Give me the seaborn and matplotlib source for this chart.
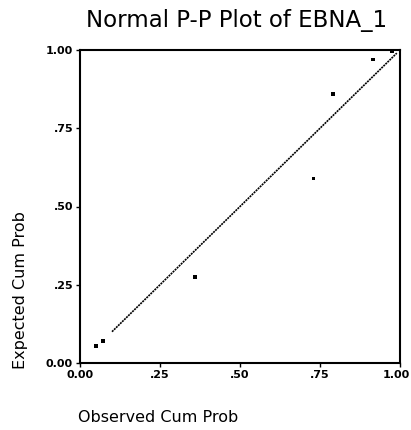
import matplotlib
matplotlib.use("Agg")
import matplotlib.pyplot as plt
import matplotlib.transforms as mtransforms
import seaborn as sns
import pandas as pd

# Dense run of points lying on the diagonal (observed vs expected cum prob)
diag_obs = [0.10, 0.36, 0.60, 0.99]
diag_exp = [0.10, 0.36, 0.60, 0.99]

# Individual points off / before the dense run
pts_obs = [0.05, 0.072, 0.36, 0.73, 0.79, 0.915, 0.975]
pts_exp = [0.054, 0.07, 0.275, 0.59, 0.86, 0.97, 0.995]

ticks = [0.0, 0.25, 0.5, 0.75, 1.0]
tick_labels = ["0.00", ".25", ".50", ".75", "1.00"]

sns.set_style("white")
plt.rcParams['font.family'] = ['DejaVu Sans']
plt.rcParams['text.color'] = 'black'
plt.rcParams['xtick.color'] = 'black'
plt.rcParams['ytick.color'] = 'black'

fig = plt.figure(figsize=(4.11, 4.30), dpi=100)
ax = fig.add_axes([80/411, 1-363/430, 320/411, 313/430])

diag = pd.DataFrame({"obs": diag_obs, "exp": diag_exp})
pts = pd.DataFrame({"obs": pts_obs, "exp": pts_exp})

sns.lineplot(data=diag, x="obs", y="exp", ax=ax, color="black", linewidth=1.2,
             linestyle=(0, (1.2, 0.5)), sort=False)
sns.scatterplot(data=pts, x="obs", y="exp", ax=ax, color="black", s=6,
                marker="s", edgecolor="none")

ax.set_xlim(0, 1)
ax.set_ylim(0, 1)
ax.set_xticks(ticks)
ax.set_yticks(ticks)
ax.set_xticklabels(tick_labels, fontsize=8, fontweight="bold")
ax.set_yticklabels(tick_labels, fontsize=8, fontweight="bold")
ax.tick_params(axis="both", direction="out", length=3, width=1, color="black",
               pad=2, bottom=True, left=True, labelcolor="black")
# keep the last x tick label inside the figure edge
last = ax.get_xticklabels()[-1]
last.set_transform(last.get_transform() +
                   mtransforms.ScaledTranslation(-0.04, 0, fig.dpi_scale_trans))
ax.set_xlabel("")
ax.set_ylabel("")
for s in ax.spines.values():
    s.set_color("black")
    s.set_linewidth(1.5)

fig.text(237/411, 1-20/430, "Normal P-P Plot of EBNA_1", ha="center", va="center",
         fontsize=16.5, color="black")
fig.text(20/411, 1-290/430, "Expected Cum Prob", ha="center", va="center",
         rotation=90, fontsize=11.5, color="black")
fig.text(158/411, 1-417/430, "Observed Cum Prob", ha="center", va="center",
         fontsize=11.5, color="black")

fig.savefig("out.png", dpi=100)
